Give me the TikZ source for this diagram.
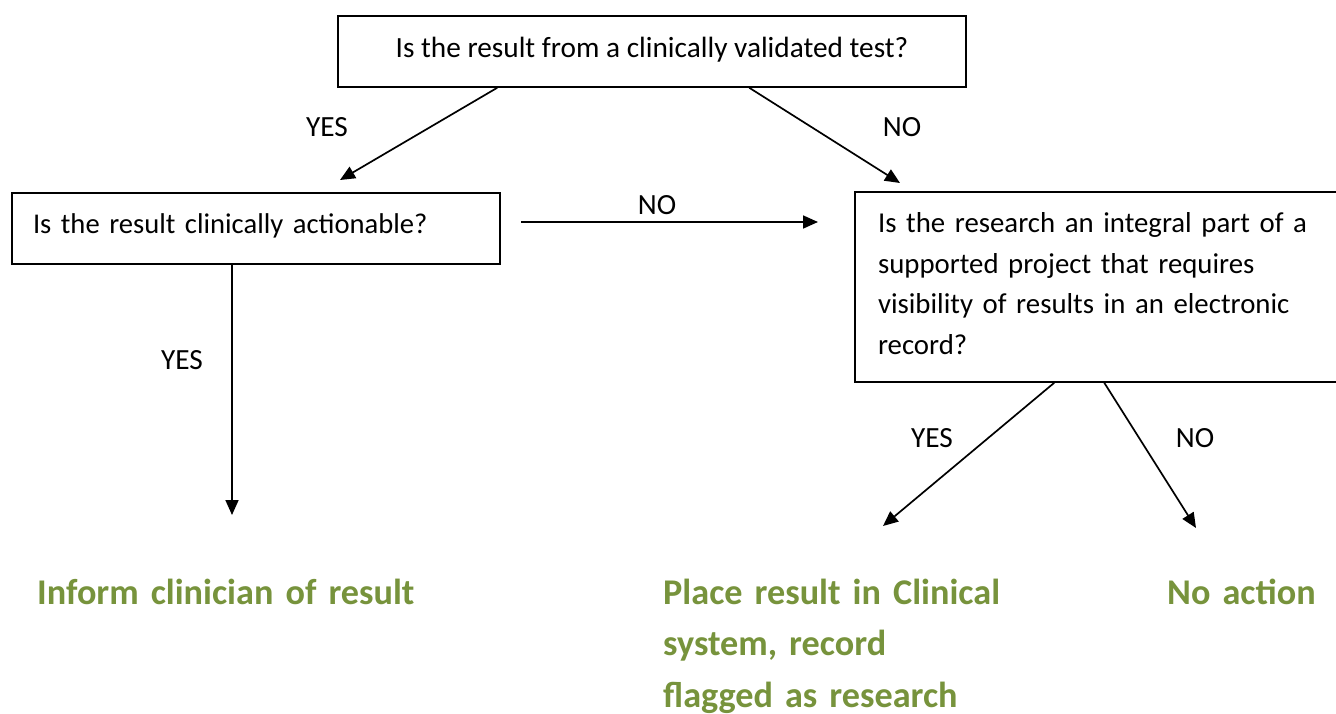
\documentclass[tikz,border=0pt]{standalone}
\usepackage{fontspec}
\setmainfont{Carlito}
\usetikzlibrary{arrows.meta}
\definecolor{olivegreen}{HTML}{77933C}
\begin{document}
\begin{tikzpicture}[x=1pt,y=-1pt,
  box/.style={draw=black,line width=1.5pt,rectangle,inner sep=0pt,font=\fontsize{29.3pt}{40.5pt}\selectfont},
  arr/.style={line width=1.7pt,-{Triangle[length=15pt,width=13pt]}},
  lbl/.style={font=\fontsize{29.3pt}{35pt}\selectfont,inner sep=0pt},
  outcome/.style={font=\fontsize{36.2pt}{51.5pt}\selectfont\bfseries,text=olivegreen,inner sep=0pt,align=left,text width=480pt,anchor=base west}]
\useasboundingbox (0,0) rectangle (1336,713);
\fill[white] (0,0) rectangle (1336,713);
% boxes
\node[box, minimum width=628pt, minimum height=71pt, text height=20pt, text depth=8pt] (q1) at (652,51.5) {Is the result from a clinically validated test?};
\node[box, text width=446pt, inner xsep=21pt, align=left, minimum height=71pt, text height=20pt, text depth=11pt, font=\fontsize{28.6pt}{40.5pt}\selectfont] (q2) at (256,228.5) {Is the result clinically actionable?};
\node[box, text width=440pt, inner xsep=23pt, align=left, minimum height=190pt, text height=21pt, text depth=130pt, font=\fontsize{28.8pt}{40.5pt}\selectfont] (q3) at (1098,287) {Is the research an integral part of a\\supported project that requires\\visibility of results in an electronic\\record?};
% outcomes
\node[outcome] (o1) at (37,604) {Inform clinician of result};
\node[outcome] (o2) at (663,604) {Place result in Clinical\\system, record\\flagged as research};
\node[outcome, text width=200pt] (o3) at (1167,604) {No action};
% connector ends
\coordinate (e1) at (340,180);
\coordinate (e2) at (900,183);
\coordinate (h1) at (521,222);
\coordinate (h2) at (818,222);
\coordinate (e3) at (232,515);
\coordinate (e4) at (883,526);
\coordinate (e5) at (1196,528);
% connectors
\draw[arr] ([xshift=160pt]q1.south west) -- (e1);
\draw[arr] ([xshift=412pt]q1.south west) -- (e2);
\draw[arr] (h1) -- (h2);
\draw[arr] ([xshift=-24pt]q2.south) -- (e3);
\draw[arr] ([xshift=200pt]q3.south west) -- (e4);
\draw[arr] ([xshift=250pt]q3.south west) -- (e5);
% labels
\node[lbl] (l1) at (327,127) {YES};
\node[lbl] (l2) at (902,127) {NO};
\node[lbl] (l3) at (657,205) {NO};
\node[lbl] (l4) at (182,360) {YES};
\node[lbl] (l5) at (932,438) {YES};
\node[lbl] (l6) at (1195,438) {NO};
\end{tikzpicture}
\end{document}
